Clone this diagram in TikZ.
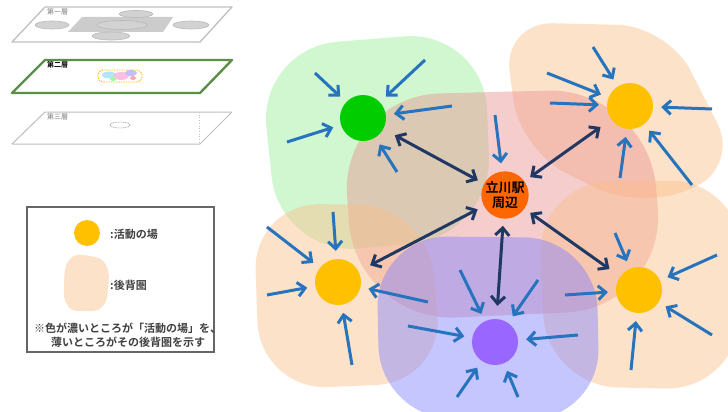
\documentclass[tikz,border=0pt]{standalone}
\usepackage{fontspec}
\newfontfamily\jp{Noto Sans CJK JP}[BoldFont={Noto Sans CJK JP Bold}]
\usetikzlibrary{arrows.meta}

\definecolor{inblue}{HTML}{2673BE}
\definecolor{linkblue}{HTML}{1F3864}
\definecolor{spotyellow}{HTML}{FFC000}
\definecolor{spotgreen}{HTML}{00CC00}
\definecolor{spotorange}{HTML}{FF6600}
\definecolor{spotpurple}{HTML}{9966FF}
\definecolor{areagreen}{HTML}{99EE99}
\definecolor{areapink}{HTML}{E89090}
\definecolor{areapeach}{HTML}{FBBF8A}
\definecolor{areablue}{HTML}{8080FF}
\definecolor{layergray}{HTML}{BFBFBF}
\definecolor{layergreen}{HTML}{5B8F45}
\definecolor{legendtext}{HTML}{404040}

\tikzset{
  area/.style={fill opacity=0.45, draw=none},
  spot/.style={circle, minimum size=46pt, inner sep=0pt, draw=none},
  barb/.tip={Straight Barb[length=7.5pt,width=14pt]},
  inarrow/.style={draw=inblue, line width=3pt, shorten >=8pt, -barb},
  link/.style={draw=linkblue, line width=3pt, shorten <=7pt, shorten >=13pt, barb-barb},
  layer/.style={draw=layergray, line width=1.3pt, fill=white, line join=round},
  layertag/.style={font=\jp\fontsize{7}{8}\selectfont, inner sep=0pt, anchor=west},
  legendlabel/.style={font=\jp\bfseries\fontsize{11}{12}\selectfont, text=legendtext, inner sep=0pt},
}

\begin{document}
\begin{tikzpicture}[x=1pt,y=-1pt]
\useasboundingbox (0,0) rectangle (728,412);

% ---------- three stacked layers ----------
% first layer
\draw[layer] (12,42) -- (200,42) -- (232,7) -- (45,7) -- cycle;
\fill[gray!40] (82,17) -- (173,17) -- (163,32) -- (68,32) -- cycle;
\foreach \cx/\cy/\rx/\ry in {52/25/17/4, 191/25/18/4, 136/14/17/3.5, 111/36/19/4, 122/25/25/4.5}
  \draw[fill=gray!35, draw=gray!55, line width=0.6pt] (\cx,\cy) ellipse [x radius=\rx pt, y radius=\ry pt];
\node[layertag, text=gray] (tag1) at (47,12) {第一層};

% second layer
\draw[layer, draw=layergreen, line width=2.4pt] (12,93) -- (200,93) -- (232,60) -- (45,60) -- cycle;
\fill[cyan!30] (109,75) ellipse [x radius=7pt, y radius=3.5pt];
\fill[magenta!25] (121,76) ellipse [x radius=8pt, y radius=4pt];
\fill[blue!25] (131,73) ellipse [x radius=6pt, y radius=3pt];
\fill[red!35] (133,78) ellipse [x radius=3pt, y radius=2pt];
\fill[green!40] (113,79) ellipse [x radius=3pt, y radius=2pt];
\draw[draw=spotyellow, line width=0.9pt, dash pattern=on 1.5pt off 1pt, rounded corners=5pt] (98,70) rectangle (142,82);
\node[layertag, font=\jp\bfseries\fontsize{7}{8}\selectfont] (tag2) at (47,65) {第二層};

% third layer
\draw[layer, line width=1pt] (12,144) -- (200,144) -- (232,112) -- (45,112) -- cycle;
\draw[layergray, line width=0.7pt, dotted] (199,112) -- (199,144);
\draw[gray!70, line width=0.6pt, dash pattern=on 1pt off 0.7pt] (120,125) ellipse [x radius=10pt, y radius=3pt];
\node[layertag, text=gray] (tag3) at (47,117) {第三層};

% ---------- legend ----------
\draw[draw=gray!80!black, line width=1.4pt, fill=white] (27,207) rectangle (214,352);
\node[circle, minimum size=26pt, inner sep=0pt, fill=spotyellow] (legspot) at (87,233) {};
\node[legendlabel, anchor=west] (legspottxt) at (110,234) {:活動の場};
\fill[areapeach!45] plot[smooth cycle, tension=0.8] coordinates
  {(70,259) (90,256) (106,265) (108,288) (102,307) (84,311) (68,306) (64,284)};
\node[legendlabel, anchor=west] (legareatxt) at (110,285) {:後背圏};
\node[legendlabel, anchor=west] (note1) at (34,328) {※色が濃いところが「活動の場」を、};
\node[legendlabel, anchor=west] (note2) at (51,342) {薄いところがその後背圏を示す};

% ---------- catchment areas ----------
\fill[areagreen, area, rounded corners=80pt]
  (258,48) -- (484,30) -- (492,236) -- (280,256) -- cycle;
\fill[areapeach, area, rounded corners=50pt]
  (503,22) -- (668,26) -- (740,168) -- (640,210) -- (520,150) -- cycle;
\fill[areapink, area, rounded corners=100pt]
  (340,96) -- (648,88) -- (666,308) -- (356,322) -- cycle;
\fill[areapeach, area, rounded corners=68pt]
  (253,203) -- (427,206) -- (444,382) -- (260,390) -- cycle;
\fill[areapeach, area, rounded corners=72pt]
  (538,182) -- (742,180) -- (738,390) -- (546,386) -- cycle;
\fill[areablue, area, rounded corners=72pt]
  (376,236) -- (596,238) -- (600,420) -- (380,418) -- cycle;

% ---------- activity spots ----------
\node[spot, fill=spotgreen] (g) at (363,118) {};
\node[spot, fill=spotyellow] (t) at (630,106) {};
\node[spot, fill=spotorange, font=\jp\bfseries\fontsize{13}{15.5}\selectfont, align=center] (c) at (505,195) {立川駅\\[-1pt]周辺};
\node[spot, fill=spotyellow] (l) at (338,282) {};
\node[spot, fill=spotyellow] (r) at (639,290) {};
\node[spot, fill=spotpurple] (p) at (495,342) {};

% ---------- links between the station and each spot ----------
\foreach \n in {g,t,l,r,p}
  \draw[link] (c) -- (\n);

% ---------- inflow arrows ----------
\foreach \n/\x/\y [count=\i] in {
  g/315/73, g/425/60, g/452/106, g/287/142, g/397/172,
  t/593/47, t/547/73, t/550/103, t/712/109, t/620/178, t/692/185,
  c/495/115,
  l/333/212, l/267/227, l/267/295, l/428/302, l/352/365,
  p/460/270, p/538/280, p/408/326, p/578/335, p/457/397, p/518/397,
  r/615/233, r/717/255, r/565/295, r/712/335, r/631/370}
{
  \coordinate (src\i) at (\x,\y);
  \draw[inarrow] (src\i) -- (\n);
}
\end{tikzpicture}
\end{document}
